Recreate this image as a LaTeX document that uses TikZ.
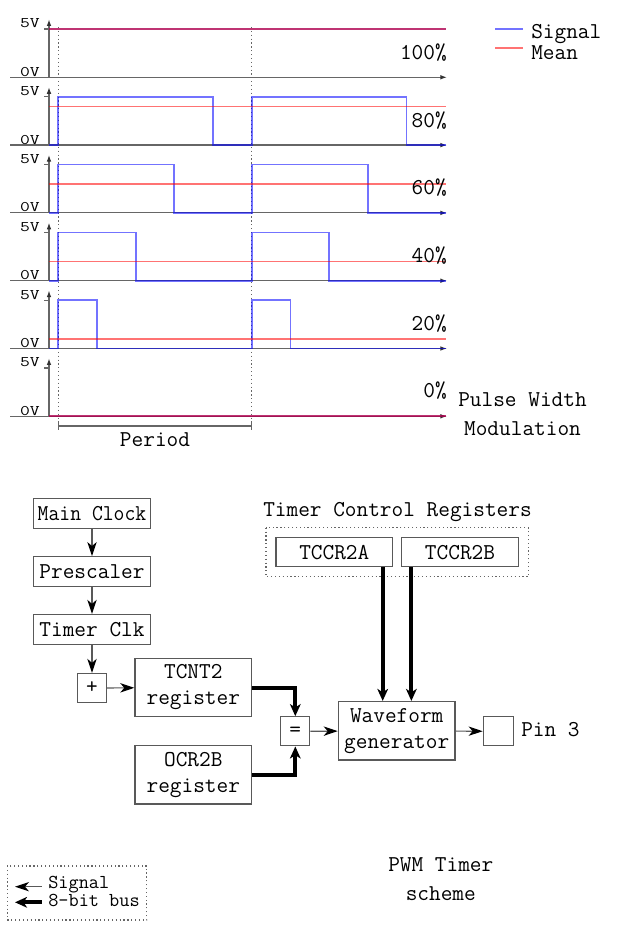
\documentclass[tikz,border=0pt]{standalone}
\usetikzlibrary{arrows.meta}
\newcommand\vlabtext[1]{\scalebox{1.3}[1]{#1}}
\begin{document}
\begin{tikzpicture}[x=0.75pt,y=-0.75pt,
 every node/.style={font=\ttfamily\fontsize{17}{19.5}\selectfont, inner sep=0pt},
 ax/.style={draw=black!60, line width=0.9pt},
 axarrow/.style={ax, -{Latex[length=5pt,width=3.5pt,color=black!80]}},
 sigline/.style={draw=blue, draw opacity=0.55, line width=1.3pt},
 meanline/.style={draw=red, draw opacity=0.55, line width=1.3pt},
 vlab/.style={anchor=base east, font=\ttfamily\fontsize{11}{12}\selectfont},
 pct/.style={anchor=east},
 blk/.style={draw=black!65, line width=1pt, fill=white, minimum width=87.5pt, minimum height=22.5pt, align=center},
 blk2/.style={blk, minimum height=43.8pt},
 sq/.style={draw=black!65, line width=1pt, fill=white, minimum width=21.75pt, minimum height=21.75pt},
 sig/.style={draw=black!65, line width=0.9pt, -{Stealth[length=10.5pt,width=7pt,inset=3pt,color=black]}},
 bus/.style={draw=black, line width=3pt, -{Stealth[length=9pt,width=8pt,inset=2.5pt]}},
 frame/.style={draw=black!60, dotted, line width=0.9pt},
 vdot/.style={draw=black!60, dotted, line width=0.9pt},
 twoline/.style={align=center, font=\ttfamily\fontsize{17}{21.2}\selectfont},
 smallleg/.style={anchor=west, align=left, font=\ttfamily\fontsize{14.8}{13.6}\selectfont}
]
\useasboundingbox (0,0) rectangle (620,930);

% ---------- PWM plot ----------
\draw[vdot] (58.3,27) -- (58.3,430);
\draw[vdot] (251.7,27) -- (251.7,430);

\foreach \yy in {77.3,145.1,212.9,280.7,348.5,416.3}{
  \draw[axarrow] (10,\yy) -- (447,\yy);
  \draw[axarrow] (49,\yy) -- (49,\yy-58);
  \draw[ax] (44,\yy-48.3) -- (49,\yy-48.3);
  \node[vlab] at (40,\yy-49.5) {\vlabtext{5V}};
  \node[vlab] at (40,\yy-1) {\vlabtext{0V}};
}

% row 0 : 100%
\draw[sigline] (49,29) -- (446,29);
\draw[meanline] (49,29) -- (446,29);
\node[pct] at (447,52.3) {100\%};

% row 1 : 80%
\draw[sigline] (49,145.1) -- (58.3,145.1) -- (58.3,96.8) -- (213,96.8) -- (213,145.1)
  -- (251.7,145.1) -- (251.7,96.8) -- (406.4,96.8) -- (406.4,145.1) -- (446,145.1);
\draw[meanline] (49,106.5) -- (446,106.5);
\node[pct] at (447,120.1) {80\%};

% row 2 : 60%
\draw[sigline] (49,212.9) -- (58.3,212.9) -- (58.3,164.6) -- (174.3,164.6) -- (174.3,212.9)
  -- (251.7,212.9) -- (251.7,164.6) -- (367.7,164.6) -- (367.7,212.9) -- (446,212.9);
\draw[meanline] (49,183.9) -- (446,183.9);
\node[pct] at (447,187.9) {60\%};

% row 3 : 40%
\draw[sigline] (49,280.7) -- (58.3,280.7) -- (58.3,232.4) -- (135.7,232.4) -- (135.7,280.7)
  -- (251.7,280.7) -- (251.7,232.4) -- (329.1,232.4) -- (329.1,280.7) -- (446,280.7);
\draw[meanline] (49,261.4) -- (446,261.4);
\node[pct] at (447,255.7) {40\%};

% row 4 : 20%
\draw[sigline] (49,348.5) -- (58.3,348.5) -- (58.3,300.2) -- (97,300.2) -- (97,348.5)
  -- (251.7,348.5) -- (251.7,300.2) -- (290.4,300.2) -- (290.4,348.5) -- (446,348.5);
\draw[meanline] (49,338.8) -- (446,338.8);
\node[pct] at (447,323.5) {20\%};

% row 5 : 0%
\draw[sigline] (49,416.3) -- (446,416.3);
\draw[meanline] (49,416.3) -- (446,416.3);
\node[pct] at (447,390.3) {0\%};

% period bracket
\draw[ax] (58.3,426) -- (251.7,426);
\draw[ax] (58.3,422.5) -- (58.3,429.5);
\draw[ax] (251.7,422.5) -- (251.7,429.5);
\node (period) at (155,440) {Period};

% legend
\draw[sigline] (495,29) -- (523,29);
\draw[meanline] (495,48.3) -- (523,48.3);
\node[anchor=north west, align=left, font=\ttfamily\fontsize{17}{15.6}\selectfont] (leg) at (531,24) {Signal\\Mean};

\node[twoline] (pwmtitle) at (522.5,414.2) {Pulse Width\\Modulation};

% ---------- Timer scheme ----------
\node[blk] (mc) at (92,513.3) {\scalebox{0.93}[1]{Main Clock}};
\node[blk] (pre) at (92,571.7) {Prescaler};
\node[blk] (tclk) at (92,629.5) {Timer Clk};
\node[sq] (plus) at (92,688) {+};
\node[blk2] (tcnt) at (193.3,687.5) {TCNT2\\register};
\node[blk2] (ocr) at (193.3,774.7) {OCR2B\\register};
\node[sq] (eq) at (295.3,731.3) {=};
\node[blk2] (wf) at (396.7,730.8) {Waveform\\generator};
\node[sq, minimum width=22.5pt] (pin) at (498.3,731.3) {};
\node[anchor=west] (pinlab) at (521,730) {Pin 3};

\node[blk, minimum height=21.75pt] (tccra) at (334.3,552.2) {TCCR2A};
\node[blk, minimum height=21.75pt] (tccrb) at (460,552.2) {TCCR2B};
\draw[frame] (266,527.7) rectangle (528.3,576.7);
\node (tcrlab) at (397.5,511.7) {Timer Control Registers};

\coordinate (wfa) at ([xshift=-10.5pt]wf.north);
\coordinate (wfb) at ([xshift=11pt]wf.north);

\draw[sig] (mc) -- (pre);
\draw[sig] (pre) -- (tclk);
\draw[sig] (tclk) -- (plus);
\draw[sig] (plus) -- (tcnt);
\draw[bus] (tcnt.east) -| (eq.north);
\draw[bus] (ocr.east) -| (eq.south);
\draw[sig] (eq) -- (wf);
\draw[sig] (wf) -- (pin);
\draw[bus] (tccra.south -| wfa) -- (wfa);
\draw[bus] (tccrb.south -| wfb) -- (wfb);

% bottom legend
\draw[frame] (7.3,866) rectangle (146.7,920);
\coordinate (lsR) at (41.7,886.7);
\coordinate (lsL) at (15,886.7);
\coordinate (lbR) at (41.7,902.3);
\coordinate (lbL) at (15,902.3);
\draw[sig] (lsR) -- (lsL);
\draw[bus] (lbR) -- (lbL);
\node[smallleg, anchor=north west] (lleg) at (48,875.5) {Signal\\8-bit bus};

\node[twoline] (schemetitle) at (440.8,879) {PWM Timer\\scheme};
\end{tikzpicture}
\end{document}
